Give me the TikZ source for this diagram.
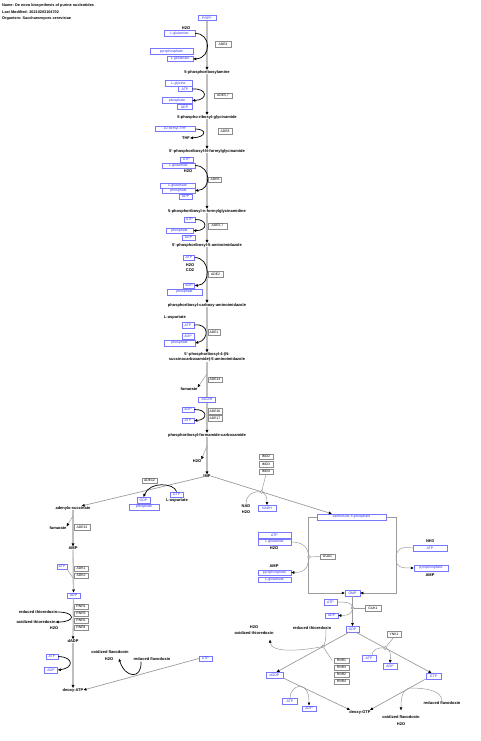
\documentclass[tikz,border=0pt]{standalone}
\usepackage{fontspec}
\setmainfont{Liberation Sans}
\usetikzlibrary{arrows.meta,calc}
\definecolor{bxblue}{RGB}{120,120,255}
\definecolor{txblue}{RGB}{50,50,240}
\definecolor{gngray}{RGB}{140,140,140}
\definecolor{axgray}{RGB}{190,190,190}
\definecolor{lngray}{RGB}{155,155,155}
\tikzset{
  hdr/.style={font=\fontsize{3.8}{4.5}\selectfont\bfseries, inner sep=0pt},
  lab/.style={font=\fontsize{4}{5}\selectfont\bfseries, inner sep=0pt, align=center},
  bx/.style={draw=bxblue, text=txblue, font=\fontsize{3.5}{4}\selectfont, inner sep=0pt, minimum height=5.5pt, line width=0.5pt, minimum width=#1},
  gn/.style={draw=gngray, text=black, font=\fontsize{3.4}{4}\selectfont, inner sep=0pt, minimum height=5.5pt, line width=0.5pt, minimum width=#1},
  tip/.style={-{Triangle[length=3pt,width=2.6pt,black]}},
  ax/.style={draw=axgray, line width=1.3pt},
  axa/.style={ax, tip},
  cv/.style={draw=black, line width=0.7pt, tip},
  tn/.style={draw=lngray, line width=0.5pt},
  tna/.style={tn, tip},
  md/.style={draw=lngray, line width=0.7pt, tip},
  circ/.style={circle, draw=lngray, fill=white, line width=0.5pt, inner sep=0pt, minimum size=3.2pt}
}
\begin{document}
\begin{tikzpicture}[x=1pt,y=-1pt]
\useasboundingbox (0,0) rectangle (480,741);
% header
\node[hdr,anchor=west] (hname) at (2,6) {Name: De novo biosynthesis of purine nucleotides};
\node[hdr,anchor=west] (hmod) at (2,12.5) {Last Modified: 20210203104702};
\node[hdr,anchor=west] (horg) at (2,19) {Organism: Saccharomyces cerevisiae};

% ---------- main column ----------
\node[bx=18pt] (prpp) at (207,18) {PRPP};
\node[lab] (h2oA) at (186,28) {H2O};
\node[bx=31pt] (glnA) at (179.5,33.5) {L-glutamine};
\node[bx=43pt] (ppiA) at (171.5,51.5) {pyrophosphate};
\node[bx=26pt] (gluA) at (180,59) {L-glutamate};
\node[gn=16pt] (ade4) at (223,44.5) {ADE4};
\node[lab] (pra) at (207,72) {5-phosphoribosylamine};
\draw[axa] (prpp.south) -- (pra.north);
\draw[cv] (glnA.east) .. controls (211,33) and (212,58) .. (gluA.east);

\node[bx=27pt] (gly) at (178.5,83.5) {L-glycine};
\node[bx=14pt] (atpB) at (185,89) {ATP};
\node[gn=18pt] (ade57a) at (223,96) {ADE5,7};
\node[bx=30pt] (piB) at (177,100.5) {phosphate};
\node[bx=15pt] (adpB) at (184.5,107) {ADP};
\node[lab] (prga) at (207,117) {5-phospho-ribosyl-glycinamide};
\draw[axa] (pra.south) -- (prga.north);
\draw[cv] (atpB.east) .. controls (208,88) and (208,100) .. (piB.east);

\node[bx=40pt] (fthf) at (175,129) {10-formyl-THF};
\node[lab] (thf) at (186,138) {THF};
\node[gn=14pt] (ade8) at (225,131.5) {ADE8};
\node[lab] (fgar) at (207,151) {5'-phosphoribosyl-N-formylglycinamide};
\draw[axa] (prga.south) -- (fgar.north);
\draw[cv] (fthf.east) .. controls (207,129) and (207,137) .. (thf.east);

\node[bx=13pt] (atpC) at (186.5,159.5) {ATP};
\node[bx=33pt] (glnC) at (178.5,165.5) {L-glutamine};
\node[lab] (h2oC) at (188,171) {H2O};
\node[gn=13pt] (ade6) at (215,179.5) {ADE6};
\node[bx=35pt] (gluC) at (177.5,185.5) {L-glutamate};
\node[bx=33pt] (piC) at (178.5,190.5) {phosphate};
\node[bx=13pt] (adpC) at (185.5,196.5) {ADP};
\node[lab] (fgam) at (207,211) {5-phosphoribosyl-n-formylglycinamidine};
\draw[axa] (fgar.south) -- (fgam.north);
\draw[cv] (glnC.east) .. controls (212,166) and (211,190) .. (piC.east);

\node[bx=11pt] (atpD) at (189.5,219.5) {ATP};
\node[gn=19pt] (ade57b) at (217.5,226) {ADE5,7};
\node[bx=27pt] (piD) at (179.5,230.5) {phosphate};
\node[bx=13pt] (adpD) at (188.5,237.5) {ADP};
\node[lab] (air) at (207,245) {5'-phosphoribosyl-5-aminoimidazole};
\draw[axa] (fgam.south) -- (air.north);
\draw[cv] (atpD.east) .. controls (208,219) and (208,231) .. (piD.east);

\node[bx=11pt] (atpE) at (189,257.5) {ATP};
\node[lab] (h2oE) at (190,265) {H2O};
\node[lab] (co2E) at (190,270) {CO2};
\node[gn=15pt] (ade2) at (215.5,274) {ADE2};
\node[bx=11pt] (adpE) at (189,285.5) {ADP};
\node[bx=35pt] (piE) at (184.5,292) {phosphate};
\node[lab] (cair) at (207,305) {phosphoribosyl-carboxy-aminoimidazole};
\draw[axa] (air.south) -- (cair.north);
\draw[cv] (atpE.east) .. controls (211,258) and (211,285) .. (adpE.east);

\node[lab] (aspF) at (175,318) {L-aspartate};
\node[bx=12pt] (atpF) at (188,325) {ATP};
\node[gn=12pt] (ade1) at (214,332) {ADE1};
\node[bx=12pt] (adpF) at (188,336) {ADP};
\node[bx=31pt] (piF) at (179.5,343) {phosphate};
\node[lab] (saicar) at (207,357) {5'-phosphoribosyl-4-(N-\\succinocarboxamide)-5-aminoimidazole};
\draw[axa] (cair.south) -- (saicar.north);
\draw[cv] (atpF.east) .. controls (210,323) and (209,340) .. (piF.east);

\node[gn=14pt] (ade13a) at (215,379.5) {ADE13};
\node[lab] (fumA) at (189,389) {fumarate};
\node[bx=17pt] (aicar) at (207,399.5) {AICAR};
\coordinate (j8) at (207,374);
\draw[ax] (saicar.south) -- (aicar.north);
\draw[tna] (j8) -- (fumA.north east);

\node[bx=12pt] (adpG) at (188,409.5) {ADP};
\node[bx=12pt] (atpG) at (188,420.5) {ATP};
\node[gn=14pt] (ade16) at (215,411) {ADE16};
\node[gn=14pt] (ade17) at (215,418) {ADE17};
\node[lab] (faicar) at (207,435) {phosphoribosyl-formamide-carboxamide};
\draw[axa] (aicar.south) -- (faicar.north);
\draw[cv] (adpG.east) .. controls (208,409) and (208,420) .. (atpG.east);

\node[lab] (h2oH) at (197,461) {H2O};
\node[lab] (imp) at (207,476) {IMP};
\coordinate (j10) at (207,446);
\draw[axa] (faicar.south) -- (imp.north);
\draw[tna] (j10) -- (h2oH.north east);

% ---------- adenine branch ----------
\node[lab] (ados) at (73,508) {adenylo-succinate};
\node[gn=15pt] (ade12) at (149.5,480.5) {ADE12};
\node[bx=13pt] (gtpL) at (176.5,494.5) {GTP};
\node[lab] (aspL) at (177,501) {L-aspartate};
\node[bx=13pt] (gdpL) at (143.5,500) {GDP};
\node[bx=30pt] (piL) at (144,507) {phosphate};
\draw[md] (imp) -- (ados);
\draw[cv] (gtpL.north) .. controls (174,483) and (150,481) .. (gdpL.north);

\node[lab] (fumB) at (58,528) {fumarate};
\node[gn=16pt] (ade13b) at (82,527) {ADE13};
\node[lab] (amp) at (73,548) {AMP};
\coordinate (j11) at (73,516);
\draw[axa] (ados.south) -- (amp.north);
\draw[tna] (j11) -- (fumB.north east);

\node[bx=10pt] (atpM) at (62,566.5) {ATP};
\node[gn=14pt] (adk1) at (81,568.5) {ADK1};
\node[gn=14pt] (adk2) at (81,575.5) {ADK2};
\node[bx=13pt] (adpM) at (73.5,595.5) {ADP};
\coordinate (j12) at (73,578);
\draw[axa] (amp.south) -- (adpM.north);
\draw[tn] (atpM.south east) -- (j12);

\node[gn=14pt] (rnr1a) at (81,606.5) {RNR1};
\node[gn=14pt] (rnr3a) at (81,613.5) {RNR3};
\node[gn=14pt] (rnr2a) at (81,620.5) {RNR2};
\node[gn=14pt] (rnr4a) at (81,627.5) {RNR4};
\node[lab] (redTa) at (38,612) {reduced thioredoxin};
\node[lab] (oxTa) at (36,622) {oxidized thioredoxin};
\node[lab] (h2oTa) at (54,628) {H2O};
\node[lab] (dadp) at (73,641) {dADP};
\draw[axa] (adpM.south) -- (dadp.north);
\draw[cv] (redTa.east) .. controls (76,612) and (76,622) .. (oxTa.east);

\node[bx=12pt] (atpN) at (52,656.5) {ATP};
\node[bx=13pt] (adpN) at (51,670) {ADP};
\node[lab] (datp) at (73,690) {deoxy-ATP};
\draw[axa] (dadp.south) -- (datp.north);
\draw[cv] (atpN.east) .. controls (74,657) and (74,668) .. (adpN.east);

\node[lab] (oxF) at (110,652) {oxidized flavodoxin};
\node[lab] (h2oF) at (109,659) {H2O};
\node[lab] (redF) at (152,659) {reduced flavodoxin};
\node[bx=13pt] (atpP) at (205.5,658.5) {ATP};
\draw[md] (atpP.west) -- (datp.east);
\draw[cv] ($(redF.south)+(-11,1)$) .. controls (142,680) and (125,678) .. ($(oxF.south)+(9,5)$);

% ---------- guanine branch ----------
\node[gn=14pt] (imd2) at (266,456.5) {IMD2};
\node[gn=14pt] (imd3) at (266,464) {IMD3};
\node[gn=14pt] (imd4) at (266,471.5) {IMD4};
\node[bx=69pt, minimum height=6pt] (xmp) at (351.5,517) {xanthosine-5-phosphate};
\coordinate (xmpin) at ([xshift=15pt]xmp.north west);
\draw[md] (imp.east) -- (xmpin);
\node[circ] (c1) at ($(imp.east)!0.42!(xmpin)$) {};
\draw[tn] (imd4.south) -- (c1);
\node[lab] (nad) at (246,506) {NAD};
\node[lab] (h2oN) at (246,512) {H2O};
\node[bx=18pt] (nadh) at (267,508) {NADH};
\draw[tn] (nad.north) .. controls (246,494) and (254,491) .. (c1.center);
\draw[tna] (c1.center) .. controls (266,494) and (267,497) .. (nadh.north);

\node[bx=15pt] (gmp) at (352.5,593) {GMP};
\coordinate (rtl) at (308,517);
\coordinate (rbl) at (308,593);
\coordinate (rtr) at (396,517);
\coordinate (rbr) at (396,593);
\draw[tna] (xmp.west) -- (rtl) -- (rbl) -- (gmp.west);
\draw[tna] (xmp.east) -- (rtr) -- (rbr) -- (gmp.east);
\node[circ] (c2) at (309,557) {};
\node[gn=15pt] (gua1) at (327.5,556.5) {GUA1};
\draw[tn] (gua1.west) -- (c2);
\node[bx=33pt] (atpQ) at (274.5,535) {ATP};
\node[bx=33pt] (glnQ) at (274.5,542) {L-glutamine};
\node[lab] (h2oQ) at (274,548) {H2O};
\node[lab] (ampQ) at (274,566) {AMP};
\node[bx=33pt] (ppiQ) at (274.5,572.5) {pyrophosphate};
\node[bx=33pt] (gluQ) at (274.5,579.5) {L-glutamate};
\draw[tn] (glnQ.east) .. controls (304,542) and (308,548) .. (c2.center);
\draw[tna] (c2.center) .. controls (308,568) and (305,572.5) .. (ppiQ.east);

\node[lab] (nh3) at (430,541) {NH3};
\node[bx=34pt] (atpR) at (430,548) {ATP};
\node[bx=34pt] (ppiR) at (431,568) {pyrophosphate};
\node[lab] (ampR) at (430,575) {AMP};
\coordinate (rc) at (396,558);
\draw[tn] (atpR.west) .. controls (400,546) and (396,550) .. (rc);
\draw[tna] (rc) .. controls (396,567) and (400,568) .. (ppiR.west);

\node[bx=13pt] (atpS) at (330.5,602) {ATP};
\node[bx=13pt] (adpS) at (331.5,615.5) {ADP};
\node[gn=16pt] (guk1) at (373,608) {GUK1};
\node[bx=13pt] (gdp) at (352.5,629) {GDP};
\draw[md] (gmp.south) -- (gdp.north);
\node[circ] (c3) at (352.5,608) {};
\draw[tn] (guk1.west) -- (c3);
\draw[tn] (atpS.east) .. controls (348,602) and (352.5,603) .. (c3.center);
\draw[tna] (c3.center) .. controls (352.5,614) and (348,615.5) .. (adpS.east);

\node[bx=17pt] (dgdp) at (274.5,675) {dGDP};
\node[bx=15pt] (gtp) at (433.5,676) {GTP};
\coordinate (gdpL1) at ([xshift=-3pt]gdp.south);
\coordinate (gdpR1) at ([xshift=3pt]gdp.south);
\coordinate (dgdpin) at ([xshift=2pt]dgdp.north);
\coordinate (gtpin) at ([xshift=-2pt]gtp.north);
\draw[md] (gdpL1) -- (dgdpin);
\draw[md] (gdpR1) -- (gtpin);
\node[circ] (c4) at ($(gdpL1)!0.363!(dgdpin)$) {};
\node[circ] (c5) at ($(gdpR1)!0.39!(gtpin)$) {};

\node[gn=14pt] (ynk1) at (394,634) {YNK1};
\draw[tn] (ynk1.south) -- (c5);
\node[bx=14pt] (atpT) at (369,658) {ATP};
\node[bx=14pt] (adpT) at (390,666) {ADP};
\draw[tn] ([xshift=3pt]atpT.north) .. controls (372,650) and (378,647) .. (c5.center);
\draw[tna] (c5.center) .. controls (390,649) and (391,653) .. (adpT.north);

\node[gn=15pt] (rnr1b) at (341.5,660.5) {RNR1};
\node[gn=15pt] (rnr3b) at (341.5,667.5) {RNR3};
\node[gn=15pt] (rnr2b) at (341.5,674.5) {RNR2};
\node[gn=15pt] (rnr4b) at (341.5,681.5) {RNR4};
\draw[tn] ([xshift=-1.5pt]rnr1b.west) -- (c4);
\node[lab] (redTb) at (312,628) {reduced thioredoxin};
\node[lab] (h2oTb) at (254,627) {H2O};
\node[lab] (oxTb) at (254,633) {oxidized thioredoxin};
\draw[tn] ([xshift=14pt]redTb.south) .. controls (326,640) and (325,644) .. (c4.center);
\draw[tna] (c4.center) .. controls (300,651) and (271,653) .. ($(oxTb.south)+(16,5)$);

\node[lab] (dgtp) at (360,712) {deoxy-GTP};
\coordinate (dgtpL) at ([xshift=-10pt]dgtp.north);
\coordinate (dgtpR) at ([xshift=10pt]dgtp.north);
\draw[md] (dgdp.south east) -- (dgtpL);
\draw[md] (gtp.south west) -- (dgtpR);
\coordinate (p1) at ($(dgdp.south east)!0.25!(dgtpL)$);
\coordinate (p2) at ($(gtp.south west)!0.29!(dgtpR)$);
\node[bx=15pt] (atpU) at (290,701) {ATP};
\node[bx=14pt] (adpU) at (309,708.5) {ADP};
\draw[tn] (atpU.north) .. controls (290,692) and (294,687) .. (p1);
\draw[tna] (p1) .. controls (307,687) and (309,694) .. (adpU.north);

\node[lab] (redFb) at (442,703) {reduced flavodoxin};
\node[lab] (oxFb) at (401,717) {oxidized flavodoxin};
\node[lab] (h2oFb) at (401,724) {H2O};
\draw[tn] (redFb.north) .. controls (442,690) and (425,688) .. (p2);
\draw[tna] (p2) .. controls (402,690) and (401,698) .. ($(oxFb.north)+(0,-5)$);
\end{tikzpicture}
\end{document}
